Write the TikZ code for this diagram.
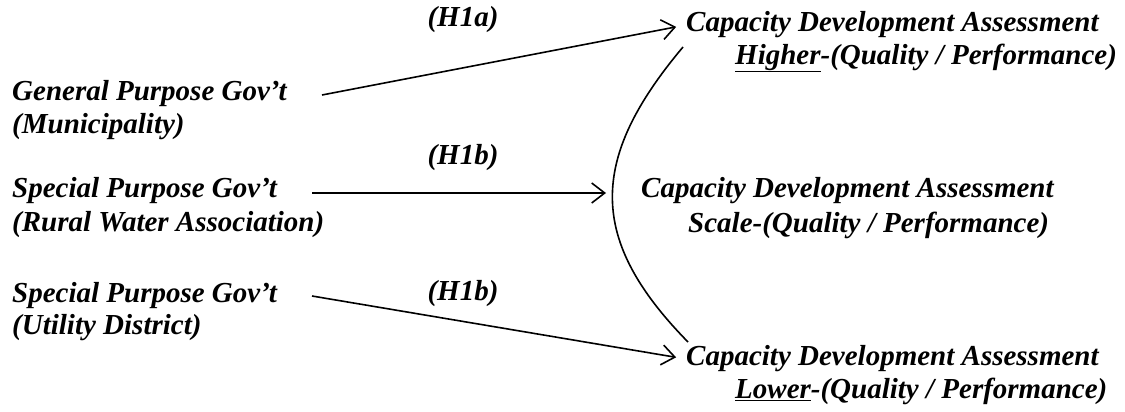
\documentclass[tikz,border=0pt]{standalone}
\usepackage{fontspec}
\setmainfont{Liberation Serif}
\usetikzlibrary{arrows.meta}
\begin{document}
\begin{tikzpicture}[x=1pt,y=-1pt,
  txt/.style={anchor=west,inner sep=0pt,font=\fontsize{29}{33}\selectfont\bfseries\itshape},
  conn/.style={line width=1.6pt,shorten >=10pt,-{Straight Barb[length=13pt,width=20pt,line width=1.6pt]}},
  curv/.style={line width=1.6pt}]
\useasboundingbox (0,0) rectangle (1125,412);
% left blocks
\node[txt] (g1) at (12,94) {General Purpose Gov’t};
\node[txt] (g2) at (12,127) {(Municipality)};
\node[txt] (r1) at (12,191) {Special Purpose Gov’t};
\node[txt] (r2) at (12,225) {(Rural Water Association)};
\node[txt] (u1) at (12,296) {Special Purpose Gov’t};
\node[txt] (u2) at (12,328) {(Utility District)};
% hypothesis labels
\node[txt,anchor=center] (h1a) at (463,20) {(H1a)};
\node[txt,anchor=center] (h1b) at (463,158) {(H1b)};
\node[txt,anchor=center] (h1c) at (463,294) {(H1b)};
% right blocks
\node[txt] (t1) at (686,25) {Capacity Development Assessment};
\node[txt] (t2) at (735,58) {\underline{Higher}-(Quality / Performance)};
\node[txt] (m1) at (641,191) {Capacity Development Assessment};
\node[txt] (m2) at (688,225) {Scale-(Quality / Performance)};
\node[txt] (b1) at (686,359) {Capacity Development Assessment};
\node[txt] (b2) at (735,391) {\underline{Lower}-(Quality / Performance)};
% connectors
\coordinate (ga) at (322,95);
\coordinate (ra) at (312,193);
\coordinate (ua) at (312,296);
\coordinate (ce) at (606,193);
\draw[conn] (ga) -- (t1.west);
\draw[conn,shorten >=0pt] (ra) -- (ce);
\draw[conn] (ua) -- (b1.west);
% curve
\coordinate (ct) at (683,47);
\coordinate (cb) at (688,342);
\draw[curv] (ct) .. controls (588,160) and (588,240) .. (cb);
\end{tikzpicture}
\end{document}
